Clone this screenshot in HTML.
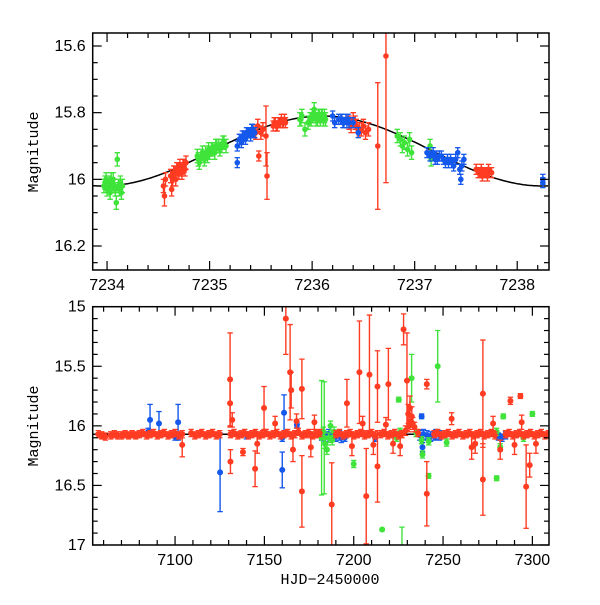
<!DOCTYPE html>
<html><head><meta charset="utf-8"><style>
html,body{margin:0;padding:0;background:#fff;}
svg text{font-family:"Liberation Sans",sans-serif;}
</style></head><body>
<svg id="c" width="600" height="600" xmlns="http://www.w3.org/2000/svg"></svg>
<script>
// ---------- TOP PANEL DATA ----------
const topGreenT=[7233.97,7233.99,7234.00,7234.02,7234.03,7234.05,7234.06,7234.08,7234.09,7234.10,7234.11,7234.13,7234.14,7234.15,7233.98,7234.01,7234.04,7234.07,7234.12,
7234.88,7234.90,7234.93,7234.95,7234.98,7235.00,7235.02,7235.05,7235.07,7235.10,7235.12,7235.14,7235.16,7234.89,7234.92,7234.96,7234.99,7235.03,7235.06,7235.09,7235.13,
7235.88,7235.90,7235.93,7235.96,7235.98,7236.00,7236.02,7236.04,7236.06,7236.08,7236.10,7236.13,7235.89,7235.99,7236.01,7236.03,7236.05,7236.07,7236.09,7236.11,7236.12,
7236.83,7236.86,7236.88,7236.90,7236.93,7236.95,7236.97,7237.15,7237.16];
const topGreenM=[16.02,16.00,16.03,16.01,16.04,16.02,16.00,16.03,16.07,15.94,16.02,16.01,16.04,16.02,16.01,16.02,16.00,16.02,16.03,
15.93,15.95,15.92,15.94,15.93,15.92,15.91,15.92,15.90,15.91,15.90,15.89,15.90,15.94,15.93,15.92,15.91,15.91,15.90,15.90,15.89,
15.82,15.81,15.85,15.83,15.82,15.81,15.79,15.82,15.81,15.82,15.81,15.82,15.82,15.82,15.81,15.81,15.82,15.81,15.81,15.82,15.81,
15.87,15.88,15.90,15.89,15.91,15.88,15.92,15.90,15.94];
const topRedT=[7234.55,7234.56,7234.57,7234.62,7234.63,7234.65,7234.67,7234.69,7234.71,7234.73,7234.75,7234.77,7234.64,7234.66,7234.68,7234.70,7234.72,7234.74,7234.76,
7235.45,7235.47,7235.48,7235.50,7235.52,7235.55,7235.56,7235.62,7235.64,7235.66,7235.68,7235.70,7235.72,7235.74,7235.63,7235.65,7235.67,7235.69,7235.71,7235.73,
7236.38,7236.40,7236.43,7236.46,7236.50,7236.52,7236.55,7236.64,7236.72,7236.36,7236.42,7236.48,7237.60,7237.63,7237.66,7237.69,7237.72,7237.75,7237.62,7237.65,7237.68,7237.71];
const topRedM=[16.02,16.05,16.00,15.99,16.03,15.98,16.00,15.97,15.96,15.98,15.96,15.95,16.00,15.98,15.97,15.98,15.97,15.96,15.97,
15.86,15.84,15.93,15.86,15.85,15.87,15.99,15.84,15.83,15.84,15.83,15.82,15.83,15.83,15.83,15.84,15.83,15.83,15.83,15.82,
15.84,15.82,15.84,15.85,15.84,15.86,15.85,15.90,15.63,15.83,15.83,15.85,15.97,15.98,15.99,15.98,15.97,15.98,15.98,15.97,15.98,15.99];
const topRedE=[0.02,0.03,0.02,0.02,0.02,0.02,0.02,0.02,0.02,0.02,0.02,0.02,0.02,0.02,0.02,0.02,0.02,0.02,0.02,
0.02,0.02,0.015,0.02,0.02,0.09,0.07,0.015,0.015,0.015,0.015,0.015,0.015,0.015,0.015,0.015,0.015,0.015,0.015,0.015,
0.02,0.02,0.02,0.02,0.02,0.02,0.02,0.19,0.38,0.02,0.02,0.02,0.015,0.015,0.015,0.015,0.015,0.015,0.015,0.015,0.015,0.015];
const topBlueT=[7235.27,7235.27,7235.29,7235.31,7235.33,7235.35,7235.37,7235.40,7235.42,7235.44,7235.30,7235.32,7235.34,7235.36,7235.38,7235.39,7235.41,7235.43,
7236.20,7236.22,7236.28,7236.30,7236.33,7236.36,7236.40,7236.45,7236.26,7236.29,7236.31,7236.34,7236.35,
7237.12,7237.15,7237.18,7237.20,7237.24,7237.28,7237.30,7237.35,7237.38,7237.42,7237.44,7237.45,7237.48,7237.21,7237.22,7237.26,7237.32,7237.33,7237.36,7237.40,7237.46,7238.25,7238.25];
const topBlueM=[15.90,15.95,15.88,15.89,15.87,15.88,15.86,15.87,15.85,15.86,15.88,15.87,15.87,15.86,15.86,15.86,15.85,15.86,
15.81,15.83,15.82,15.83,15.82,15.83,15.83,15.86,15.82,15.82,15.83,15.83,15.82,
15.92,15.93,15.92,15.94,15.93,15.94,15.95,15.94,15.96,15.92,15.97,16.00,15.94,15.93,15.94,15.93,15.94,15.95,15.95,15.94,15.96,16.00,16.01];
const topXTicks=[7234,7235,7236,7237,7238];
const topYTicks=[15.6,15.8,16,16.2];

// ---------- BOTTOM PANEL DATA ----------
const botRedT=[7057,7059,7061,7064,7066,7068,7070,7072,7074,7076,7078,7080,7082,7084,7086,7088,7090,7092,7094,7096,7098,7100,7102,7104,7109,7111,7113,7115,7117,7119,7121,7123,7125,7131,7133,7135,7137,7139,7141,7143,7145,7147,7149,7151,7153,7155,7157,7159,7161,7163,7165,7167,7169,7171,7173,7175,7177,7179,7181,7190,7192,7194,7196,7198,7200,7202,7204,7206,7208,7210,7212,7215,7217,7219,7221,7223,7225,7227,7229,7231,7232,7233,7234,7236,7245,7247,7249,7251,7253,7255,7257,7259,7261,7263,7265,7267,7269,7271,7273,7275,7277,7279,7285,7287,7289,7291,7293,7295,7297,7299,7301,7303,7305,7307,7309,
7130.8,7130.8,7131,7138,7144.8,7149.8,7162,7164.4,7165,7171,7171,7187.7,7104,7196.2,7203.2,7207,7208.8,7213.3,7213.3,7219.4,7227.9,7229.8,7240.9,7240.9,7272.3,7272.3,7287.7,7293.3,7296.5,7298.5,7254.8,7266,7282,7230.5,7231.5,7232.5,
7132,7146,7156,7166,7168,7176,7178,7199,7205,7211,7218,7222,7226,7268,7278,7290,7294,7302];
const botRedM=[16.07,16.08,16.09,16.08,16.07,16.08,16.08,16.07,16.08,16.07,16.08,16.07,16.06,16.08,16.07,16.06,16.08,16.07,16.06,16.08,16.07,16.06,16.08,16.07,16.06,16.08,16.07,16.06,16.08,16.07,16.06,16.08,16.07,16.07,16.06,16.08,16.07,16.06,16.08,16.07,16.06,16.08,16.07,16.06,16.08,16.07,16.06,16.08,16.07,16.06,16.08,16.07,16.05,16.08,16.07,16.06,16.08,16.07,16.06,16.07,16.06,16.08,16.07,16.06,16.08,16.07,16.06,16.08,16.07,16.06,16.08,16.07,16.06,16.08,16.07,16.06,16.08,16.07,16.04,16.00,15.96,15.98,16.01,16.06,16.07,16.06,16.08,16.07,16.06,16.08,16.07,16.06,16.08,16.07,16.06,16.08,16.07,16.06,16.08,16.07,16.06,16.08,16.07,16.06,16.08,16.07,16.06,16.08,16.07,16.06,16.08,16.07,16.06,16.08,16.07,
15.61,15.81,16.30,16.22,16.36,15.85,15.10,15.55,15.70,15.69,16.55,16.66,16.16,15.81,15.55,16.59,15.57,15.67,16.34,15.65,15.19,15.62,15.65,16.57,15.73,16.45,15.79,15.75,16.51,16.33,15.94,16.18,16.20,15.90,15.85,15.92,
15.95,16.15,15.98,16.20,15.96,16.18,15.97,16.17,15.98,16.16,15.99,16.15,16.17,16.15,15.98,16.16,15.97,16.15];
const botRedE=[0.03,0.03,0.03,0.03,0.03,0.03,0.03,0.03,0.03,0.03,0.03,0.03,0.03,0.03,0.03,0.03,0.03,0.03,0.03,0.03,0.03,0.03,0.03,0.03,0.03,0.03,0.03,0.03,0.03,0.03,0.03,0.03,0.03,0.03,0.03,0.03,0.03,0.03,0.03,0.03,0.03,0.03,0.03,0.03,0.03,0.03,0.03,0.03,0.03,0.03,0.03,0.03,0.03,0.03,0.03,0.03,0.03,0.03,0.03,0.03,0.03,0.03,0.03,0.03,0.03,0.03,0.03,0.03,0.03,0.03,0.03,0.03,0.03,0.03,0.03,0.03,0.03,0.03,0.04,0.05,0.05,0.05,0.04,0.03,0.03,0.03,0.03,0.03,0.03,0.03,0.03,0.03,0.03,0.03,0.03,0.03,0.03,0.03,0.03,0.03,0.03,0.03,0.03,0.03,0.03,0.03,0.03,0.03,0.03,0.03,0.03,0.03,0.03,0.03,0.03,
0.39,0.2,0.1,0.03,0.15,0.18,0.3,0.4,0.15,0.25,0.3,0.35,0.1,0.2,0.43,0.4,0.5,0.3,0.3,0.3,0.13,0.4,0.04,0.27,0.45,0.3,0.03,0.02,0.35,0.1,0.05,0.1,0.08,0.08,0.1,0.08,
0.06,0.08,0.06,0.1,0.06,0.08,0.06,0.08,0.06,0.08,0.06,0.08,0.08,0.08,0.06,0.08,0.06,0.08];
const botBlueT=[7182,7184,7186,7188,7190,7192,7193,7195,7212,7237,7239,7241,7243,7245,7246,7248,7281,7283,7285,7140,7160,7085,7100,7086,7091,7101.7,7125.2,7161,7160,7168.2,7238,7238.5];
const botBlueM=[16.08,16.09,16.07,16.08,16.09,16.08,16.1,16.10,16.10,16.08,16.07,16.08,16.09,16.08,16.07,16.08,16.09,16.10,16.08,16.08,16.10,16.05,16.09,15.95,15.98,15.97,16.39,15.89,16.37,15.99,15.92,16.18];
const botBlueE=[0.04,0.04,0.04,0.04,0.04,0.04,0.04,0.03,0.03,0.04,0.04,0.04,0.04,0.04,0.04,0.04,0.03,0.03,0.03,0.03,0.03,0.03,0.03,0.13,0.1,0.15,0.33,0.15,0.15,0.02,0.02,0.04];
const botGreenT=[7183,7184,7185,7186,7187,7188,7189,7224,7226,7235,7238,7242,7252,7280,7282,7295,7183.5,7247,7232.4,7215.9,7227,7225.2,7241.9,7283.7,7300,7280,7200,7182,7238.5];
const botGreenM=[16.05,16.15,16.20,16.10,16.00,16.12,16.05,16.10,16.05,16.06,16.12,16.13,16.14,16.05,16.18,16.10,16.10,15.50,15.60,16.87,17.05,15.78,16.42,15.92,15.90,16.44,16.32,16.10,16.24];
const botGreenE=[0.04,0.04,0.04,0.04,0.04,0.04,0.04,0.03,0.03,0.03,0.03,0.03,0.03,0.03,0.03,0.03,0.47,0.3,0.2,0.01,0.2,0.02,0.02,0.02,0.02,0.02,0.03,0.48,0.03];
const botXTicks=[7100,7150,7200,7250,7300];
const botYTicks=[15,15.5,16,16.5,17];

// ---------- DRAWING ----------
const NS="http://www.w3.org/2000/svg";
const svg=document.getElementById('c');
const RED="#ff3b22",GREEN="#3fe33a",BLUE="#1458ec";
function mk(tag,attrs,parent){const e=document.createElementNS(NS,tag);for(const k in attrs)e.setAttribute(k,attrs[k]);(parent||svg).appendChild(e);return e;}

function panel(name,x0,x1,y0,y1,tmin,tmax,mmin,mmax){
  const g=mk('g',{});
  
  
  const clip=mk('clipPath',{id:name+'-clip'});
  mk('rect',{x:x0,y:y0,width:x1-x0,height:y1-y0},clip);
  const sx=t=>x0+(t-tmin)/(tmax-tmin)*(x1-x0);
  const sy=m=>y0+(m-mmin)/(mmax-mmin)*(y1-y0);
  const plot=mk('g',{'clip-path':'url(#'+name+'-clip)'},g);
  return {g,plot,sx,sy,x0,x1,y0,y1,tmin,tmax,mmin,mmax};
}
function points(P,name,T,M,E,defE,color,r){
  const g=mk('g',{},P.plot);
  
  
  for(let i=0;i<T.length;i++){
    const e=E?E[i]:defE;
    const x=P.sx(T[i]),y=P.sy(M[i]),ya=P.sy(M[i]-e),yb=P.sy(M[i]+e);
    mk('line',{x1:x,x2:x,y1:ya,y2:yb,stroke:color,'stroke-width':1.4},g);
    mk('line',{x1:x-2.7,x2:x+2.7,y1:ya,y2:ya,stroke:color,'stroke-width':1.3},g);
    mk('line',{x1:x-2.7,x2:x+2.7,y1:yb,y2:yb,stroke:color,'stroke-width':1.3},g);
    const c=mk('circle',{cx:x,cy:y,r:r,fill:color},g);
    
    
  }
}
function axes(P,xt,xminorStep,yt,yminorStep){
  const g=mk('g',{},P.g);
  
  
  mk('rect',{x:P.x0,y:P.y0,width:P.x1-P.x0,height:P.y1-P.y0,fill:'none',stroke:'#000','stroke-width':1.5},g);
  const eps=1e-6;
  for(let t=Math.ceil(P.tmin/xminorStep)*xminorStep;t<=P.tmax+eps;t+=xminorStep){
    const major=xt.some(v=>Math.abs(v-t)<xminorStep/10); const L=major?9:5; const x=P.sx(t);
    mk('line',{x1:x,x2:x,y1:P.y1,y2:P.y1-L,stroke:'#000','stroke-width':1.2},g);
    mk('line',{x1:x,x2:x,y1:P.y0,y2:P.y0+L,stroke:'#000','stroke-width':1.2},g);
  }
  for(let m=Math.ceil(P.mmin/yminorStep)*yminorStep;m<=P.mmax+eps;m+=yminorStep){
    const major=yt.some(v=>Math.abs(v-m)<yminorStep/10); const L=major?9:5; const y=P.sy(m);
    mk('line',{x1:P.x0,x2:P.x0+L,y1:y,y2:y,stroke:'#000','stroke-width':1.2},g);
    mk('line',{x1:P.x1,x2:P.x1-L,y1:y,y2:y,stroke:'#000','stroke-width':1.2},g);
  }
  xt.forEach(t=>{const tx=mk('text',{x:P.sx(t),y:P.y1+20,'text-anchor':'middle','font-size':16},g);tx.textContent=t;
    });
  yt.forEach(m=>{const tx=mk('text',{x:P.x0-7,y:P.sy(m)+5,'text-anchor':'end','font-size':16},g);tx.textContent=m;
    });
}

// top panel
const A=panel('top-panel',92.7,549,33,270,7233.86,7238.31,15.561,16.272);
(function(){let d='';for(let t=A.tmin;t<=A.tmax;t+=0.02){const m=15.915-0.105*Math.cos(2*Math.PI*(t-7236.1)/4.3);d+=(d?'L':'M')+A.sx(t).toFixed(1)+','+A.sy(m).toFixed(1);}
 const p=mk('path',{d:d,fill:'none',stroke:'#000','stroke-width':1.5},A.plot);
 })();
points(A,'green-series',topGreenT,topGreenM,null,0.02,GREEN,2.8);
points(A,'red-series',topRedT,topRedM,topRedE,0.02,RED,2.8);
points(A,'blue-series',topBlueT,topBlueM,null,0.015,BLUE,2.8);
axes(A,topXTicks,0.2,topYTicks,0.05);

// bottom panel
const B=panel('bottom-panel',92.7,549,306.7,545,7053.9,7309.3,15,17);
(function(){const l=mk('line',{x1:B.x0,x2:B.x1,y1:B.sy(16.07),y2:B.sy(16.07),stroke:'#000','stroke-width':1.5},B.plot);
 })();
points(B,'blue-series',botBlueT,botBlueM,botBlueE,0.03,BLUE,3);
points(B,'green-series',botGreenT,botGreenM,botGreenE,0.03,GREEN,3);
points(B,'red-series',botRedT,botRedM,botRedE,0.03,RED,3);
axes(B,botXTicks,10,botYTicks,0.1);

function title(txt,x,y,rot,name){const t=mk('text',{x:x,y:y,'text-anchor':'middle','font-size':15,transform:rot?`rotate(-90 ${x} ${y})`:''});
 t.style.fontFamily='"Liberation Mono","Liberation Serif",serif';t.textContent=txt;
 }
title('Magnitude',38,152,true,'top-y-axis-title');
title('Magnitude',38,426,true,'bottom-y-axis-title');
title('HJD\u22122450000',330,584,false,'x-axis-title');
</script>
</body></html>
